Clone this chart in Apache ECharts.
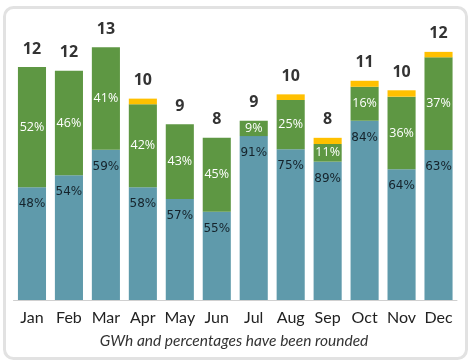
<!DOCTYPE html>
<html>
<head>
<meta charset="utf-8">
<script src="https://cdn.jsdelivr.net/npm/echarts@6/dist/echarts.min.js"></script>
<style>
html,body{margin:0;padding:0;background:#fff;}
#c{width:468px;height:361px;}
</style>
</head>
<body>
<div id="c"></div>
<script>
const months = ['Jan','Feb','Mar','Apr','May','Jun','Jul','Aug','Sep','Oct','Nov','Dec'];
const blueVals = [5.81,6.43,7.75,5.81,5.21,4.55,8.45,7.77,7.13,9.24,6.74,7.73];
const greenVals = [6.20,5.39,5.28,4.28,3.85,3.81,0.79,2.54,0.91,1.75,3.74,4.78];
const yellowVals = [0,0,0,0.29,0,0,0,0.29,0.32,0.31,0.33,0.28];
const bluePct = ['48%','54%','59%','58%','57%','55%','91%','75%','89%','84%','64%','63%'];
const greenPct = ['52%','46%','41%','42%','43%','45%','9%','25%','11%','16%','36%','37%'];
const totals = ['12','12','13','10','9','8','9','10','8','11','10','12'];
const note = 'GWh and percentages have been rounded';

const chart = echarts.init(document.getElementById('c'), null, {renderer:'canvas'});
chart.setOption({
  animation:false,
  backgroundColor:'#fff',
  grid:{left:13.5,right:11,top:28.4,bottom:61},
  xAxis:{
    type:'category', data:months,
    axisLine:{show:true,lineStyle:{color:'#d0d0d0',width:1}},
    axisTick:{show:false},
    axisLabel:{interval:0,color:'#222',fontSize:16,fontFamily:'Lato',margin:10}
  },
  yAxis:{type:'value',min:0,max:14,show:false,splitLine:{show:false}},
  series:[
    {type:'bar',stack:'s',data:blueVals,barCategoryGap:'24%',
     itemStyle:{color:'#5f9aab'},
     label:{show:true,position:'insideTop',distance:11,color:'#15232b',fontSize:12,fontFamily:'DejaVu Sans',
       formatter:p=>bluePct[p.dataIndex]}},
    {type:'bar',stack:'s',data:greenVals,
     itemStyle:{color:'#5e9743'},
     label:{show:true,position:'inside',color:'#fff',fontSize:12.5,fontFamily:'Open Sans',
       formatter:p=>greenPct[p.dataIndex]}},
    {type:'bar',stack:'s',data:yellowVals,
     itemStyle:{color:'#ffc000'},
     label:{show:true,position:'top',distance:10,color:'#333',fontSize:16,fontWeight:'bold',fontFamily:'Open Sans',
       formatter:p=>totals[p.dataIndex]}}
  ],
  graphic:[
    {type:'rect',left:2,top:5,shape:{width:462,height:351,r:9},z:-10,
     style:{fill:'none',stroke:'#e2e2e2',lineWidth:3}},
    {type:'text',left:'center',top:333,z:10,
     style:{text:note,fill:'#333',font:'italic 15.5px Lato'}}
  ]
});
</script>
</body>
</html>
